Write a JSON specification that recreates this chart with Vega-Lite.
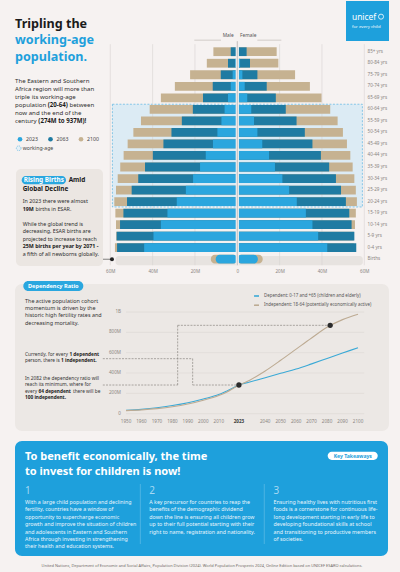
{
  "$schema": "https://vega.github.io/schema/vega-lite/v6.json",
  "background": "#f6f2f1",
  "padding": {"left": 14, "right": 12, "top": 0, "bottom": 0},
  "bounds": "flush",
  "spacing": 10,
  "resolve": {"scale": {"color": "independent"}, "legend": {"color": "independent"}},
  "config": {"view": {"stroke": null}, "font": "Noto Sans", "axis": {"labelOverlap": false}},
  "datasets": {
    "pyr": [
      {"age":"85+ yrs","sex":"M","year":"2023","value":-0.7},{"age":"85+ yrs","sex":"M","year":"2063","value":-3.1},{"age":"85+ yrs","sex":"M","year":"2100","value":-11.3},
      {"age":"85+ yrs","sex":"F","year":"2023","value":0.8},{"age":"85+ yrs","sex":"F","year":"2063","value":4.4},{"age":"85+ yrs","sex":"F","year":"2100","value":18.6},
      {"age":"80-84 yrs","sex":"M","year":"2023","value":-1.0},{"age":"80-84 yrs","sex":"M","year":"2063","value":-4.4},{"age":"80-84 yrs","sex":"M","year":"2100","value":-14.4},
      {"age":"80-84 yrs","sex":"F","year":"2023","value":1.3},{"age":"80-84 yrs","sex":"F","year":"2063","value":6.0},{"age":"80-84 yrs","sex":"F","year":"2100","value":19.4},
      {"age":"75-79 yrs","sex":"M","year":"2023","value":-2.2},{"age":"75-79 yrs","sex":"M","year":"2063","value":-7.8},{"age":"75-79 yrs","sex":"M","year":"2100","value":-22.3},
      {"age":"75-79 yrs","sex":"F","year":"2023","value":2.4},{"age":"75-79 yrs","sex":"F","year":"2063","value":9.5},{"age":"75-79 yrs","sex":"F","year":"2100","value":27.3},
      {"age":"70-74 yrs","sex":"M","year":"2023","value":-3.1},{"age":"70-74 yrs","sex":"M","year":"2063","value":-11.6},{"age":"70-74 yrs","sex":"M","year":"2100","value":-29.5},
      {"age":"70-74 yrs","sex":"F","year":"2023","value":3.5},{"age":"70-74 yrs","sex":"F","year":"2063","value":13.9},{"age":"70-74 yrs","sex":"F","year":"2100","value":34.3},
      {"age":"65-69 yrs","sex":"M","year":"2023","value":-4.4},{"age":"65-69 yrs","sex":"M","year":"2063","value":-16.2},{"age":"65-69 yrs","sex":"M","year":"2100","value":-36.1},
      {"age":"65-69 yrs","sex":"F","year":"2023","value":4.7},{"age":"65-69 yrs","sex":"F","year":"2063","value":18.2},{"age":"65-69 yrs","sex":"F","year":"2100","value":39.8},
      {"age":"60-64 yrs","sex":"M","year":"2023","value":-6.0},{"age":"60-64 yrs","sex":"M","year":"2063","value":-21.0},{"age":"60-64 yrs","sex":"M","year":"2100","value":-41.4},
      {"age":"60-64 yrs","sex":"F","year":"2023","value":6.6},{"age":"60-64 yrs","sex":"F","year":"2063","value":22.9},{"age":"60-64 yrs","sex":"F","year":"2100","value":43.9},
      {"age":"55-59 yrs","sex":"M","year":"2023","value":-7.5},{"age":"55-59 yrs","sex":"M","year":"2063","value":-26.2},{"age":"55-59 yrs","sex":"M","year":"2100","value":-45.5},
      {"age":"55-59 yrs","sex":"F","year":"2023","value":7.9},{"age":"55-59 yrs","sex":"F","year":"2063","value":28.0},{"age":"55-59 yrs","sex":"F","year":"2100","value":47.4},
      {"age":"50-54 yrs","sex":"M","year":"2023","value":-9.4},{"age":"50-54 yrs","sex":"M","year":"2063","value":-31.1},{"age":"50-54 yrs","sex":"M","year":"2100","value":-49.1},
      {"age":"50-54 yrs","sex":"F","year":"2023","value":9.5},{"age":"50-54 yrs","sex":"F","year":"2063","value":31.9},{"age":"50-54 yrs","sex":"F","year":"2100","value":49.9},
      {"age":"45-49 yrs","sex":"M","year":"2023","value":-11.5},{"age":"45-49 yrs","sex":"M","year":"2063","value":-34.9},{"age":"45-49 yrs","sex":"M","year":"2100","value":-51.8},
      {"age":"45-49 yrs","sex":"F","year":"2023","value":11.8},{"age":"45-49 yrs","sex":"F","year":"2063","value":35.5},{"age":"45-49 yrs","sex":"F","year":"2100","value":51.8},
      {"age":"40-44 yrs","sex":"M","year":"2023","value":-14.9},{"age":"40-44 yrs","sex":"M","year":"2063","value":-39.9},{"age":"40-44 yrs","sex":"M","year":"2100","value":-53.7},
      {"age":"40-44 yrs","sex":"F","year":"2023","value":15.0},{"age":"40-44 yrs","sex":"F","year":"2063","value":39.5},{"age":"40-44 yrs","sex":"F","year":"2100","value":53.4},
      {"age":"35-39 yrs","sex":"M","year":"2023","value":-17.6},{"age":"35-39 yrs","sex":"M","year":"2063","value":-43.6},{"age":"35-39 yrs","sex":"M","year":"2100","value":-55.3},
      {"age":"35-39 yrs","sex":"F","year":"2023","value":17.8},{"age":"35-39 yrs","sex":"F","year":"2063","value":43.4},{"age":"35-39 yrs","sex":"F","year":"2100","value":54.5},
      {"age":"30-34 yrs","sex":"M","year":"2023","value":-20.9},{"age":"30-34 yrs","sex":"M","year":"2063","value":-46.8},{"age":"30-34 yrs","sex":"M","year":"2100","value":-56.5},
      {"age":"30-34 yrs","sex":"F","year":"2023","value":21.3},{"age":"30-34 yrs","sex":"F","year":"2063","value":46.6},{"age":"30-34 yrs","sex":"F","year":"2100","value":55.3},
      {"age":"25-29 yrs","sex":"M","year":"2023","value":-24.3},{"age":"25-29 yrs","sex":"M","year":"2063","value":-49.9},{"age":"25-29 yrs","sex":"M","year":"2100","value":-57.3},
      {"age":"25-29 yrs","sex":"F","year":"2023","value":24.5},{"age":"25-29 yrs","sex":"F","year":"2063","value":49.0},{"age":"25-29 yrs","sex":"F","year":"2100","value":56.0},
      {"age":"20-24 yrs","sex":"M","year":"2023","value":-28.6},{"age":"20-24 yrs","sex":"M","year":"2063","value":-52.1},{"age":"20-24 yrs","sex":"M","year":"2100","value":-58.1},
      {"age":"20-24 yrs","sex":"F","year":"2023","value":28.1},{"age":"20-24 yrs","sex":"F","year":"2063","value":51.3},{"age":"20-24 yrs","sex":"F","year":"2100","value":56.5},
      {"age":"15-19 yrs","sex":"M","year":"2023","value":-33.0},{"age":"15-19 yrs","sex":"M","year":"2063","value":-53.8},{"age":"15-19 yrs","sex":"M","year":"2100","value":-57.6},
      {"age":"15-19 yrs","sex":"F","year":"2023","value":32.4},{"age":"15-19 yrs","sex":"F","year":"2063","value":52.9},{"age":"15-19 yrs","sex":"F","year":"2100","value":56.0},
      {"age":"10-14 yrs","sex":"M","year":"2023","value":-36.1},{"age":"10-14 yrs","sex":"M","year":"2063","value":-55.4},{"age":"10-14 yrs","sex":"M","year":"2100","value":-57.3},
      {"age":"10-14 yrs","sex":"F","year":"2023","value":35.5},{"age":"10-14 yrs","sex":"F","year":"2063","value":54.0},{"age":"10-14 yrs","sex":"F","year":"2100","value":55.6},
      {"age":"5-9 yrs","sex":"M","year":"2023","value":-39.6},{"age":"5-9 yrs","sex":"M","year":"2063","value":-57.0},{"age":"5-9 yrs","sex":"M","year":"2100","value":-57.2},
      {"age":"5-9 yrs","sex":"F","year":"2023","value":38.2},{"age":"5-9 yrs","sex":"F","year":"2063","value":55.3},{"age":"5-9 yrs","sex":"F","year":"2100","value":55.0},
      {"age":"0-4 yrs","sex":"M","year":"2023","value":-44.0},{"age":"0-4 yrs","sex":"M","year":"2063","value":-56.8},{"age":"0-4 yrs","sex":"M","year":"2100","value":-57.8},
      {"age":"0-4 yrs","sex":"F","year":"2023","value":42.5},{"age":"0-4 yrs","sex":"F","year":"2063","value":56.2},{"age":"0-4 yrs","sex":"F","year":"2100","value":55.0}
    ],
    "births": [
      {"age":"Births","sex":"M","year":"2023","value":-10.2},{"age":"Births","sex":"M","year":"2100","value":-12.5},
      {"age":"Births","sex":"F","year":"2023","value":9.7},{"age":"Births","sex":"F","year":"2100","value":12.0}
    ],
    "ratio": [
      {"year":1950,"series":"Dependent","value":33},{"year":1960,"series":"Dependent","value":43},{"year":1970,"series":"Dependent","value":58},
      {"year":1980,"series":"Dependent","value":80},{"year":1990,"series":"Dependent","value":108},{"year":2000,"series":"Dependent","value":145},
      {"year":2010,"series":"Dependent","value":188},{"year":2015,"series":"Dependent","value":222},{"year":2020,"series":"Dependent","value":260},
      {"year":2023,"series":"Dependent","value":282},{"year":2030,"series":"Dependent","value":312},{"year":2040,"series":"Dependent","value":354},
      {"year":2050,"series":"Dependent","value":397},{"year":2060,"series":"Dependent","value":439},{"year":2070,"series":"Dependent","value":490},
      {"year":2080,"series":"Dependent","value":543},{"year":2090,"series":"Dependent","value":596},{"year":2100,"series":"Dependent","value":649},
      {"year":1950,"series":"Independent","value":30},{"year":1960,"series":"Independent","value":38},{"year":1970,"series":"Independent","value":50},
      {"year":1980,"series":"Independent","value":68},{"year":1990,"series":"Independent","value":95},{"year":2000,"series":"Independent","value":133},
      {"year":2010,"series":"Independent","value":180},{"year":2015,"series":"Independent","value":212},{"year":2020,"series":"Independent","value":255},
      {"year":2023,"series":"Independent","value":280},{"year":2030,"series":"Independent","value":330},{"year":2040,"series":"Independent","value":420},
      {"year":2050,"series":"Independent","value":525},{"year":2060,"series":"Independent","value":635},{"year":2070,"series":"Independent","value":745},
      {"year":2080,"series":"Independent","value":850},{"year":2090,"series":"Independent","value":925},{"year":2100,"series":"Independent","value":977}
    ],
    "keypts": [
      {"year":2023,"value":282,"note":"1 dependent per 1 independent"},
      {"year":2082,"value":869,"note":"64 dependent per 100 independent"}
    ],
    "yticks": [
      {"tick":0,"label":"0"},{"tick":200,"label":"200M"},{"tick":400,"label":"400M"},
      {"tick":600,"label":"600M"},{"tick":800,"label":"800M"},{"tick":1000,"label":"1B"}
    ],
    "xticks": [
      {"year":1950},{"year":1960},{"year":1970},{"year":1980},{"year":1990},{"year":2000},{"year":2010},{"year":2023},
      {"year":2040},{"year":2050},{"year":2060},{"year":2070},{"year":2080},{"year":2090},{"year":2100}
    ]
  },
  "vconcat": [
    {
      "width": 374,
      "height": 273,
      "layer": [
        {"data":{"values":[{}]},
         "mark":{"type":"rect","fill":"#e7e3e0","cornerRadius":3,"yOffset":-3.3,"y2Offset":6},
         "encoding":{"x":{"datum":-57.5},"x2":{"datum":59.3},"y":{"datum":"Births"},"y2":{"datum":"Births"}}},
        {"data":{"values":[{}]},
         "mark":{"type":"rect","fill":"#dcebf4","stroke":"#5ab5e2","strokeWidth":0.7,"strokeDash":[2,1.5],"yOffset":-5.1,"y2Offset":5.4},
         "encoding":{"x":{"datum":-59},"x2":{"datum":59.1},"y":{"datum":"60-64 yrs"},"y2":{"datum":"20-24 yrs"}}},
        {"data":{"values":[{"tick":-60},{"tick":-40},{"tick":-20},{"tick":20},{"tick":40},{"tick":60}]},
         "mark":{"type":"rule","stroke":"#d9d4d1","strokeWidth":0.6,"yOffset":4,"y2Offset":6},
         "encoding":{"x":{"field":"tick","type":"quantitative"},"y":{"datum":"hdr"},"y2":{"datum":"Births"}}},
        {"data":{"name":"pyr"},
         "mark":{"type":"bar"},
         "encoding":{
           "x":{"field":"value","type":"quantitative","stack":null,
             "scale":{"domain":[-105.02,71.67],"nice":false,"zero":false},
             "axis":{"orient":"bottom","offset":-6,"values":[-60,-40,-20,0,20,40,60],"labelExpr":"datum.value == 0 ? '0' : abs(datum.value) + 'M'","labelFontSize":4.6,"labelColor":"#8a8581","labelPadding":0.7,"labelOverlap":false,"tickSize":0,"ticks":false,"domain":false,"grid":false,"title":null}},
           "x2":{"datum":0},
           "y":{"field":"age","type":"nominal",
             "scale":{"type":"band","domain":["hdr","85+ yrs","80-84 yrs","75-79 yrs","70-74 yrs","65-69 yrs","60-64 yrs","55-59 yrs","50-54 yrs","45-49 yrs","40-44 yrs","35-39 yrs","30-34 yrs","25-29 yrs","20-24 yrs","15-19 yrs","10-14 yrs","5-9 yrs","0-4 yrs","Births"],"range":[33.4,264],"paddingInner":0.24,"paddingOuter":0.12},
             "axis":{"orient":"right","offset":-22,"labelExpr":"datum.value == 'hdr' ? '' : datum.value","labelFontSize":4.6,"labelColor":"#8a8581","labelPadding":0,"labelOverlap":false,"tickSize":0,"ticks":false,"domain":false,"grid":false,"title":null}},
           "color":{"field":"year","type":"nominal","scale":{"domain":["2023","2063","2100"],"range":["#2ba6de","#1f7ba2","#c6b291"]},
             "legend":{"orient":"none","legendX":1.5,"legendY":134.6,"direction":"horizontal","title":null,"symbolType":"circle","symbolSize":22,"labelFontSize":5.2,"labelColor":"#444444","labelOffset":2.5,"columnPadding":8.5}},
           "order":{"field":"year","sort":"descending"}}},
        {"data":{"name":"births"},
         "mark":{"type":"bar","cornerRadius":4},
         "encoding":{
           "x":{"field":"value","type":"quantitative","stack":null},
           "x2":{"datum":0},
           "y":{"field":"age","type":"nominal"},
           "color":{"field":"year","type":"nominal"},
           "order":{"field":"year","sort":"descending"}}},
        {"data":{"values":[{}]},
         "mark":{"type":"rule","stroke":"#f4f1f0","strokeWidth":3.2,"yOffset":1,"y2Offset":6},
         "encoding":{"x":{"datum":0},"y":{"datum":"hdr"},"y2":{"datum":"Births"}}},
        {"data":{"values":[{}]},
         "mark":{"type":"rule","stroke":"#a39e9a","strokeWidth":0.6,"yOffset":1,"y2Offset":6},
         "encoding":{"x":{"datum":0},"y":{"datum":"hdr"},"y2":{"datum":"Births"}}},
        {"data":{"values":[{}]},
         "mark":{"type":"rule","stroke":"#aaa5a1","strokeWidth":0.5},
         "encoding":{"x":{"datum":-20.3},"x2":{"datum":-7.7},"y":{"datum":"hdr"}}},
        {"data":{"values":[{}]},
         "mark":{"type":"rule","stroke":"#aaa5a1","strokeWidth":0.5},
         "encoding":{"x":{"datum":9.5},"x2":{"datum":20.8},"y":{"datum":"hdr"}}},
        {"data":{"values":[{"t":"Male"}]},
         "mark":{"type":"text","align":"right","baseline":"middle","fontSize":4.8,"color":"#555555","dy":-3.9},
         "encoding":{"x":{"datum":-1.7},"y":{"datum":"hdr"},"text":{"field":"t"}}},
        {"data":{"values":[{"t":"Female"}]},
         "mark":{"type":"text","align":"left","baseline":"middle","fontSize":4.8,"color":"#555555","dy":-3.9},
         "encoding":{"x":{"datum":1.3},"y":{"datum":"hdr"},"text":{"field":"t"}}},
        {"data":{"values":[{"t":"Tripling the"}]},
         "mark":{"type":"text","align":"left","baseline":"top","fontSize":12.6,"fontWeight":"bold","color":"#1b1b1b","dy":-22.4},
         "encoding":{"x":{"datum":-105.02},"y":{"datum":"hdr"},"text":{"field":"t"}}},
        {"data":{"values":[{"t":["working-age","population."]}]},
         "mark":{"type":"text","align":"left","baseline":"top","fontSize":12.6,"fontWeight":"bold","color":"#1ea0dc","lineHeight":16.6,"dy":-6.2},
         "encoding":{"x":{"datum":-105.02},"y":{"datum":"hdr"},"text":{"field":"t"}}},
        {"data":{"values":[{"t":["The Eastern and Southern","Africa region will more than","triple its working-age"]}]},
         "mark":{"type":"text","align":"left","baseline":"top","fontSize":6.1,"color":"#2e2e2e","lineHeight":8,"dy":38.15},
         "encoding":{"x":{"datum":-105.02},"y":{"datum":"hdr"},"text":{"field":"t"}}},
        {"data":{"values":[{"t":"population"}]},
         "mark":{"type":"text","align":"left","baseline":"top","fontSize":6.1,"color":"#2e2e2e","dy":62.15},
         "encoding":{"x":{"datum":-105.02},"y":{"datum":"hdr"},"text":{"field":"t"}}},
        {"data":{"values":[{"t":"(20-64)"}]},
         "mark":{"type":"text","align":"left","baseline":"top","fontSize":6.1,"fontWeight":"bold","color":"#1b1b1b","dy":62.15},
         "encoding":{"x":{"datum":-89.53},"y":{"datum":"hdr"},"text":{"field":"t"}}},
        {"data":{"values":[{"t":"between"}]},
         "mark":{"type":"text","align":"left","baseline":"top","fontSize":6.1,"color":"#2e2e2e","dy":62.15},
         "encoding":{"x":{"datum":-79.32},"y":{"datum":"hdr"},"text":{"field":"t"}}},
        {"data":{"values":[{"t":"now and the end of the"}]},
         "mark":{"type":"text","align":"left","baseline":"top","fontSize":6.1,"color":"#2e2e2e","dy":70.15},
         "encoding":{"x":{"datum":-105.02},"y":{"datum":"hdr"},"text":{"field":"t"}}},
        {"data":{"values":[{"t":"century"}]},
         "mark":{"type":"text","align":"left","baseline":"top","fontSize":6.1,"color":"#2e2e2e","dy":78.15},
         "encoding":{"x":{"datum":-105.02},"y":{"datum":"hdr"},"text":{"field":"t"}}},
        {"data":{"values":[{"t":"(274M to 937M)!"}]},
         "mark":{"type":"text","align":"left","baseline":"top","fontSize":6.1,"fontWeight":"bold","color":"#1b1b1b","dy":78.15},
         "encoding":{"x":{"datum":-94.0},"y":{"datum":"hdr"},"text":{"field":"t"}}},
        {"data":{"values":[{}]},
         "mark":{"type":"point","shape":"circle","fill":"#e6f0f6","stroke":"#5ab5e2","strokeWidth":0.7,"strokeDash":[1.2,0.8],"size":22,"opacity":1,"yOffset":4.3},
         "encoding":{"x":{"datum":-103.27},"y":{"datum":"45-49 yrs"}}},
        {"data":{"values":[{"t":"working-age"}]},
         "mark":{"type":"text","align":"left","baseline":"middle","fontSize":5.2,"color":"#444444","dy":4.3},
         "encoding":{"x":{"datum":-101.38},"y":{"datum":"45-49 yrs"},"text":{"field":"t"}}},
        {"data":{"values":[{}]},
         "mark":{"type":"rect","fill":"#ebe6e2","cornerRadius":5,"yOffset":2,"y2Offset":6.7},
         "encoding":{"x":{"datum":-104.55},"x2":{"datum":-63.45},"y":{"datum":"35-39 yrs"},"y2":{"datum":"Births"}}},
        {"data":{"values":[{}]},
         "mark":{"type":"rect","fill":"#2aa7df","cornerRadius":4,"yOffset":-2.6,"y2Offset":5.7},
         "encoding":{"x":{"datum":-101.85},"x2":{"datum":-80.93},"y":{"datum":"30-34 yrs"},"y2":{"datum":"30-34 yrs"}}},
        {"data":{"values":[{"t":"Rising Births"}]},
         "mark":{"type":"text","align":"center","baseline":"middle","fontSize":6.4,"fontWeight":"bold","color":"#ffffff","dy":1.6},
         "encoding":{"x":{"datum":-91.41},"y":{"datum":"30-34 yrs"},"text":{"field":"t"}}},
        {"data":{"values":[{"t":"Amid"}]},
         "mark":{"type":"text","align":"left","baseline":"middle","fontSize":6.4,"fontWeight":"bold","color":"#1b1b1b","dy":1.6},
         "encoding":{"x":{"datum":-79.65},"y":{"datum":"30-34 yrs"},"text":{"field":"t"}}},
        {"data":{"values":[{"t":"Global Decline"}]},
         "mark":{"type":"text","align":"left","baseline":"middle","fontSize":6.4,"fontWeight":"bold","color":"#1b1b1b","dy":10.7},
         "encoding":{"x":{"datum":-101.38},"y":{"datum":"30-34 yrs"},"text":{"field":"t"}}},
        {"data":{"values":[{"t":"In 2023 there were almost"}]},
         "mark":{"type":"text","align":"left","baseline":"top","fontSize":5.3,"color":"#2e2e2e","dy":9.3},
         "encoding":{"x":{"datum":-101.38},"y":{"datum":"25-29 yrs"},"text":{"field":"t"}}},
        {"data":{"values":[{"t":"19M"}]},
         "mark":{"type":"text","align":"left","baseline":"top","fontSize":5.3,"fontWeight":"bold","color":"#1b1b1b","dy":16.75},
         "encoding":{"x":{"datum":-101.38},"y":{"datum":"25-29 yrs"},"text":{"field":"t"}}},
        {"data":{"values":[{"t":"births in ESAR."}]},
         "mark":{"type":"text","align":"left","baseline":"top","fontSize":5.3,"color":"#2e2e2e","dy":16.75},
         "encoding":{"x":{"datum":-95.36},"y":{"datum":"25-29 yrs"},"text":{"field":"t"}}},
        {"data":{"values":[{"t":["While the global trend is","decreasing,  ESAR births are","projected to increase to reach"]}]},
         "mark":{"type":"text","align":"left","baseline":"top","fontSize":5.3,"color":"#2e2e2e","lineHeight":7.45,"dy":31.65},
         "encoding":{"x":{"datum":-101.38},"y":{"datum":"25-29 yrs"},"text":{"field":"t"}}},
        {"data":{"values":[{"t":"25M births per year  by 2071 -"}]},
         "mark":{"type":"text","align":"left","baseline":"top","fontSize":5.3,"fontWeight":"bold","color":"#1b1b1b","dy":54.0},
         "encoding":{"x":{"datum":-101.38},"y":{"datum":"25-29 yrs"},"text":{"field":"t"}}},
        {"data":{"values":[{"t":"a fifth of all newborns globally."}]},
         "mark":{"type":"text","align":"left","baseline":"top","fontSize":5.3,"color":"#2e2e2e","dy":61.45},
         "encoding":{"x":{"datum":-101.38},"y":{"datum":"25-29 yrs"},"text":{"field":"t"}}},
        {"data":{"values":[{}]},
         "mark":{"type":"rule","stroke":"#333333","strokeWidth":0.6},
         "encoding":{"x":{"datum":-63.45},"x2":{"datum":-59.2},"y":{"datum":"Births"}}},
        {"data":{"values":[{}]},
         "mark":{"type":"point","filled":true,"color":"#222222","size":16,"opacity":1},
         "encoding":{"x":{"datum":-59.2},"y":{"datum":"Births"}}},
        {"data":{"values":[{}]},
         "mark":{"type":"rect","fill":"#1ea0dc","yOffset":-39.2,"y2Offset":0.8},
         "encoding":{"x":{"datum":51.36},"x2":{"datum":71.67},"y":{"datum":"hdr"},"y2":{"datum":"hdr"}}},
        {"data":{"values":[{"t":"unicef"}]},
         "mark":{"type":"text","align":"left","baseline":"middle","fontSize":8.4,"color":"#ffffff","dy":-23.2},
         "encoding":{"x":{"datum":54.19},"y":{"datum":"hdr"},"text":{"field":"t"}}},
        {"data":{"values":[{}]},
         "mark":{"type":"point","shape":"circle","filled":false,"stroke":"#ffffff","strokeWidth":0.8,"size":26,"opacity":1,"yOffset":-23.5},
         "encoding":{"x":{"datum":67.9},"y":{"datum":"hdr"}}},
        {"data":{"values":[{"t":"for every child"}]},
         "mark":{"type":"text","align":"left","baseline":"middle","fontSize":4.3,"color":"#ffffff","dy":-13.5},
         "encoding":{"x":{"datum":54.19},"y":{"datum":"hdr"},"text":{"field":"t"}}}
      ]
    },
    {
      "width": 374,
      "height": 147,
      "view": {"fill": "#ece8e5", "cornerRadius": 7, "stroke": null},
      "layer": [
        {"data":{"name":"yticks"},
         "mark":{"type":"rule","stroke":"#dcd7d3","strokeWidth":0.6},
         "encoding":{
           "x":{"datum":1950,"type":"quantitative","scale":{"domain":[1878.23,2120.04],"nice":false,"zero":false},"axis":null},
           "x2":{"datum":2104},
           "y":{"field":"tick","type":"quantitative","scale":{"domain":[-170.1,1275.3],"nice":false,"zero":false},"axis":null}}},
        {"data":{"name":"yticks"},
         "mark":{"type":"text","align":"right","baseline":"middle","fontSize":4.6,"color":"#8a8581","dx":-5},
         "encoding":{"x":{"datum":1950},"y":{"field":"tick","type":"quantitative"},"text":{"field":"label"}}},
        {"data":{"name":"xticks"},
         "transform":[{"filter":"datum.year != 2023"}],
         "mark":{"type":"text","align":"center","baseline":"middle","fontSize":4.6,"color":"#8a8581","dy":8},
         "encoding":{"x":{"field":"year","type":"quantitative"},"y":{"datum":0},"text":{"field":"year","type":"quantitative","format":"d"}}},
        {"data":{"name":"xticks"},
         "transform":[{"filter":"datum.year == 2023"}],
         "mark":{"type":"text","align":"center","baseline":"middle","fontSize":4.6,"fontWeight":"bold","color":"#3a3a3a","dy":8},
         "encoding":{"x":{"field":"year","type":"quantitative"},"y":{"datum":0},"text":{"field":"year","type":"quantitative","format":"d"}}},
        {"data":{"values":[{}]},"mark":{"type":"rule","stroke":"#7a7571","strokeWidth":0.6,"strokeDash":[2,1.2]},
         "encoding":{"x":{"datum":1935},"x2":{"datum":1993.1},"y":{"datum":541},"y2":{"datum":541}}},
        {"data":{"values":[{}]},"mark":{"type":"rule","stroke":"#7a7571","strokeWidth":0.6,"strokeDash":[2,1.2]},
         "encoding":{"x":{"datum":1993.1},"x2":{"datum":1993.1},"y":{"datum":541},"y2":{"datum":282}}},
        {"data":{"values":[{}]},"mark":{"type":"rule","stroke":"#7a7571","strokeWidth":0.6,"strokeDash":[2,1.2]},
         "encoding":{"x":{"datum":1993.1},"x2":{"datum":2023},"y":{"datum":282},"y2":{"datum":282}}},
        {"data":{"values":[{}]},"mark":{"type":"rule","stroke":"#7a7571","strokeWidth":0.6,"strokeDash":[2,1.2]},
         "encoding":{"x":{"datum":1935},"x2":{"datum":1983.4},"y":{"datum":282},"y2":{"datum":282}}},
        {"data":{"values":[{}]},"mark":{"type":"rule","stroke":"#7a7571","strokeWidth":0.6,"strokeDash":[2,1.2]},
         "encoding":{"x":{"datum":1983.4},"x2":{"datum":1983.4},"y":{"datum":282},"y2":{"datum":869}}},
        {"data":{"values":[{}]},"mark":{"type":"rule","stroke":"#7a7571","strokeWidth":0.6,"strokeDash":[2,1.2]},
         "encoding":{"x":{"datum":1983.4},"x2":{"datum":2082},"y":{"datum":869},"y2":{"datum":869}}},
        {"data":{"name":"ratio"},
         "mark":{"type":"line","strokeWidth":1.1,"interpolate":"monotone"},
         "encoding":{
           "x":{"field":"year","type":"quantitative"},
           "y":{"field":"value","type":"quantitative"},
           "color":{"field":"series","type":"nominal","scale":{"domain":["Dependent","Independent"],"range":["#3aa9d6","#bdab93"]},
             "legend":{"orient":"none","legendX":238,"legendY":8.5,"title":null,"symbolType":"stroke","symbolSize":25,"symbolStrokeWidth":1.6,"labelFontSize":4.4,"labelColor":"#555555","rowPadding":2.2,"labelOffset":4,
               "labelExpr":"datum.label == 'Dependent' ? 'Dependent: 0-17 and +65 (children and elderly)' : 'Independent: 18-64 (potentially economically active)'"}}}},
        {"data":{"name":"keypts"},
         "mark":{"type":"point","filled":true,"color":"#2b2b2b","size":28,"opacity":1},
         "encoding":{"x":{"field":"year","type":"quantitative"},"y":{"field":"value","type":"quantitative"},"tooltip":{"field":"note"}}},
        {"data":{"values":[{"t":["The active population cohort","momentum is driven by the","historic high fertility rates and","decreasing mortality."]}]},
         "mark":{"type":"text","align":"left","baseline":"top","fontSize":5.45,"color":"#333333","lineHeight":7.43},
         "encoding":{"x":{"datum":1884.7},"y":{"datum":1132.7},"text":{"field":"t"}}},
        {"data":{"values":[{"t":"Currently, for every"}]},
         "mark":{"type":"text","align":"left","baseline":"top","fontSize":4.75,"color":"#333333"},
         "encoding":{"x":{"datum":1884.7},"y":{"datum":610.6},"text":{"field":"t"}}},
        {"data":{"values":[{"t":"1 dependent"}]},
         "mark":{"type":"text","align":"left","baseline":"top","fontSize":4.75,"fontWeight":"bold","color":"#222222"},
         "encoding":{"x":{"datum":1913.4},"y":{"datum":610.6},"text":{"field":"t"}}},
        {"data":{"values":[{"t":"person, there is"}]},
         "mark":{"type":"text","align":"left","baseline":"top","fontSize":4.75,"color":"#333333","dy":6.7},
         "encoding":{"x":{"datum":1884.7},"y":{"datum":610.6},"text":{"field":"t"}}},
        {"data":{"values":[{"t":"1 independent."}]},
         "mark":{"type":"text","align":"left","baseline":"top","fontSize":4.75,"fontWeight":"bold","color":"#222222","dy":6.7},
         "encoding":{"x":{"datum":1908.0},"y":{"datum":610.6},"text":{"field":"t"}}},
        {"data":{"values":[{"t":["In 2082 the dependency ratio will","reach its minimum, where for"]}]},
         "mark":{"type":"text","align":"left","baseline":"top","fontSize":4.75,"color":"#333333","lineHeight":6.57},
         "encoding":{"x":{"datum":1884.7},"y":{"datum":374.6},"text":{"field":"t"}}},
        {"data":{"values":[{"t":"every"}]},
         "mark":{"type":"text","align":"left","baseline":"top","fontSize":4.75,"color":"#333333","dy":13.14},
         "encoding":{"x":{"datum":1884.7},"y":{"datum":374.6},"text":{"field":"t"}}},
        {"data":{"values":[{"t":"64 dependent"}]},
         "mark":{"type":"text","align":"left","baseline":"top","fontSize":4.75,"fontWeight":"bold","color":"#222222","dy":13.14},
         "encoding":{"x":{"datum":1893.4},"y":{"datum":374.6},"text":{"field":"t"}}},
        {"data":{"values":[{"t":"there will be"}]},
         "mark":{"type":"text","align":"left","baseline":"top","fontSize":4.75,"color":"#333333","dy":13.14},
         "encoding":{"x":{"datum":1915.7},"y":{"datum":374.6},"text":{"field":"t"}}},
        {"data":{"values":[{"t":"100 independent."}]},
         "mark":{"type":"text","align":"left","baseline":"top","fontSize":4.75,"fontWeight":"bold","color":"#222222","dy":19.7},
         "encoding":{"x":{"datum":1884.7},"y":{"datum":374.6},"text":{"field":"t"}}},
        {"data":{"values":[{}]},
         "mark":{"type":"rect","fill":"#2aa7df","cornerRadius":5},
         "encoding":{"x":{"datum":1883.6},"x2":{"datum":1922.4},"y":{"datum":1304.8},"y2":{"datum":1206.5}}},
        {"data":{"values":[{"t":"Dependency Ratio"}]},
         "mark":{"type":"text","align":"center","baseline":"middle","fontSize":5.6,"fontWeight":"bold","color":"#ffffff"},
         "encoding":{"x":{"datum":1903},"y":{"datum":1252.7},"text":{"field":"t"}}}
      ]
    },
    {
      "width": 373,
      "height": 115,
      "view": {"fill": "#1ea0dc", "cornerRadius": 7, "stroke": null},
      "layer": [
        {"data":{"values":[{"t":["To benefit economically, the time","to invest for children is now!"]}]},
         "mark":{"type":"text","align":"left","baseline":"top","fontSize":11,"fontWeight":"bold","color":"#ffffff","lineHeight":15},
         "encoding":{
           "x":{"datum":1,"type":"quantitative","scale":{"domain":[0.9196,3.9204],"nice":false,"zero":false},"axis":null},
           "y":{"datum":8.63,"type":"quantitative","scale":{"domain":[0,100],"reverse":true,"nice":false,"zero":false},"axis":null},
           "text":{"field":"t"}}},
        {"data":{"values":[{}]},
         "mark":{"type":"rect","fill":"#ffffff","cornerRadius":4.5},
         "encoding":{"x":{"datum":3.435},"x2":{"datum":3.838},"y":{"datum":9.3},"y2":{"datum":16.5}}},
        {"data":{"values":[{"t":"Key Takeaways"}]},
         "mark":{"type":"text","align":"center","baseline":"middle","fontSize":5.1,"fontWeight":"bold","color":"#1c9fdb"},
         "encoding":{"x":{"datum":3.637},"y":{"datum":12.96},"text":{"field":"t"}}},
        {"data":{"values":[{}]},
         "mark":{"type":"rule","stroke":"#ffffff","strokeOpacity":0.35,"strokeWidth":0.6},
         "encoding":{"x":{"datum":1.928},"y":{"datum":37.4},"y2":{"datum":89.6}}},
        {"data":{"values":[{}]},
         "mark":{"type":"rule","stroke":"#ffffff","strokeOpacity":0.35,"strokeWidth":0.6},
         "encoding":{"x":{"datum":2.925},"y":{"datum":37.4},"y2":{"datum":89.6}}},
        {"data":{"values":[
            {"n":1,"t":["With a large child population and declining","fertility, countries have a window of","opportunity to supercharge economic","growth and improve the situation of children","and adolescents in Eastern and Southern","Africa through investing in strengthening","their health and education systems."]},
            {"n":2,"t":["A key precursor for countries to reap the","benefits of the demographic dividend","down the line is ensuring all children grow","up to their full potential starting with their","right to name, registration and nationality."]},
            {"n":3,"t":["Ensuring healthy lives with nutritious first","foods is a cornerstone for continuous life-","long development starting in early life to","developing foundational skills at school","and transitioning to productive members","of societies."]}
          ]},
         "layer": [
           {"mark":{"type":"text","align":"left","baseline":"middle","fontSize":10,"color":"#a6d9f3"},
            "encoding":{"x":{"field":"n","type":"quantitative"},"y":{"datum":43.4},"text":{"field":"n","type":"nominal"}}},
           {"mark":{"type":"text","align":"left","baseline":"top","fontSize":5.3,"color":"#eaf6fc","lineHeight":7.35},
            "encoding":{"x":{"field":"n","type":"quantitative"},"y":{"datum":51.4},"text":{"field":"t"}}}
         ]}
      ]
    },
    {
      "width": 374,
      "height": 7,
      "data": {"values": [{"t": "United Nations, Department of Economic and Social Affairs, Population Division (2024). World Population Prospects 2024, Online Edition based on UNICEF ESARO calculations."}]},
      "mark": {"type": "text", "fontSize": 3.95, "color": "#6f6a66", "baseline": "middle", "dy": -3.5},
      "encoding": {"text": {"field": "t"}}
    }
  ]
}
